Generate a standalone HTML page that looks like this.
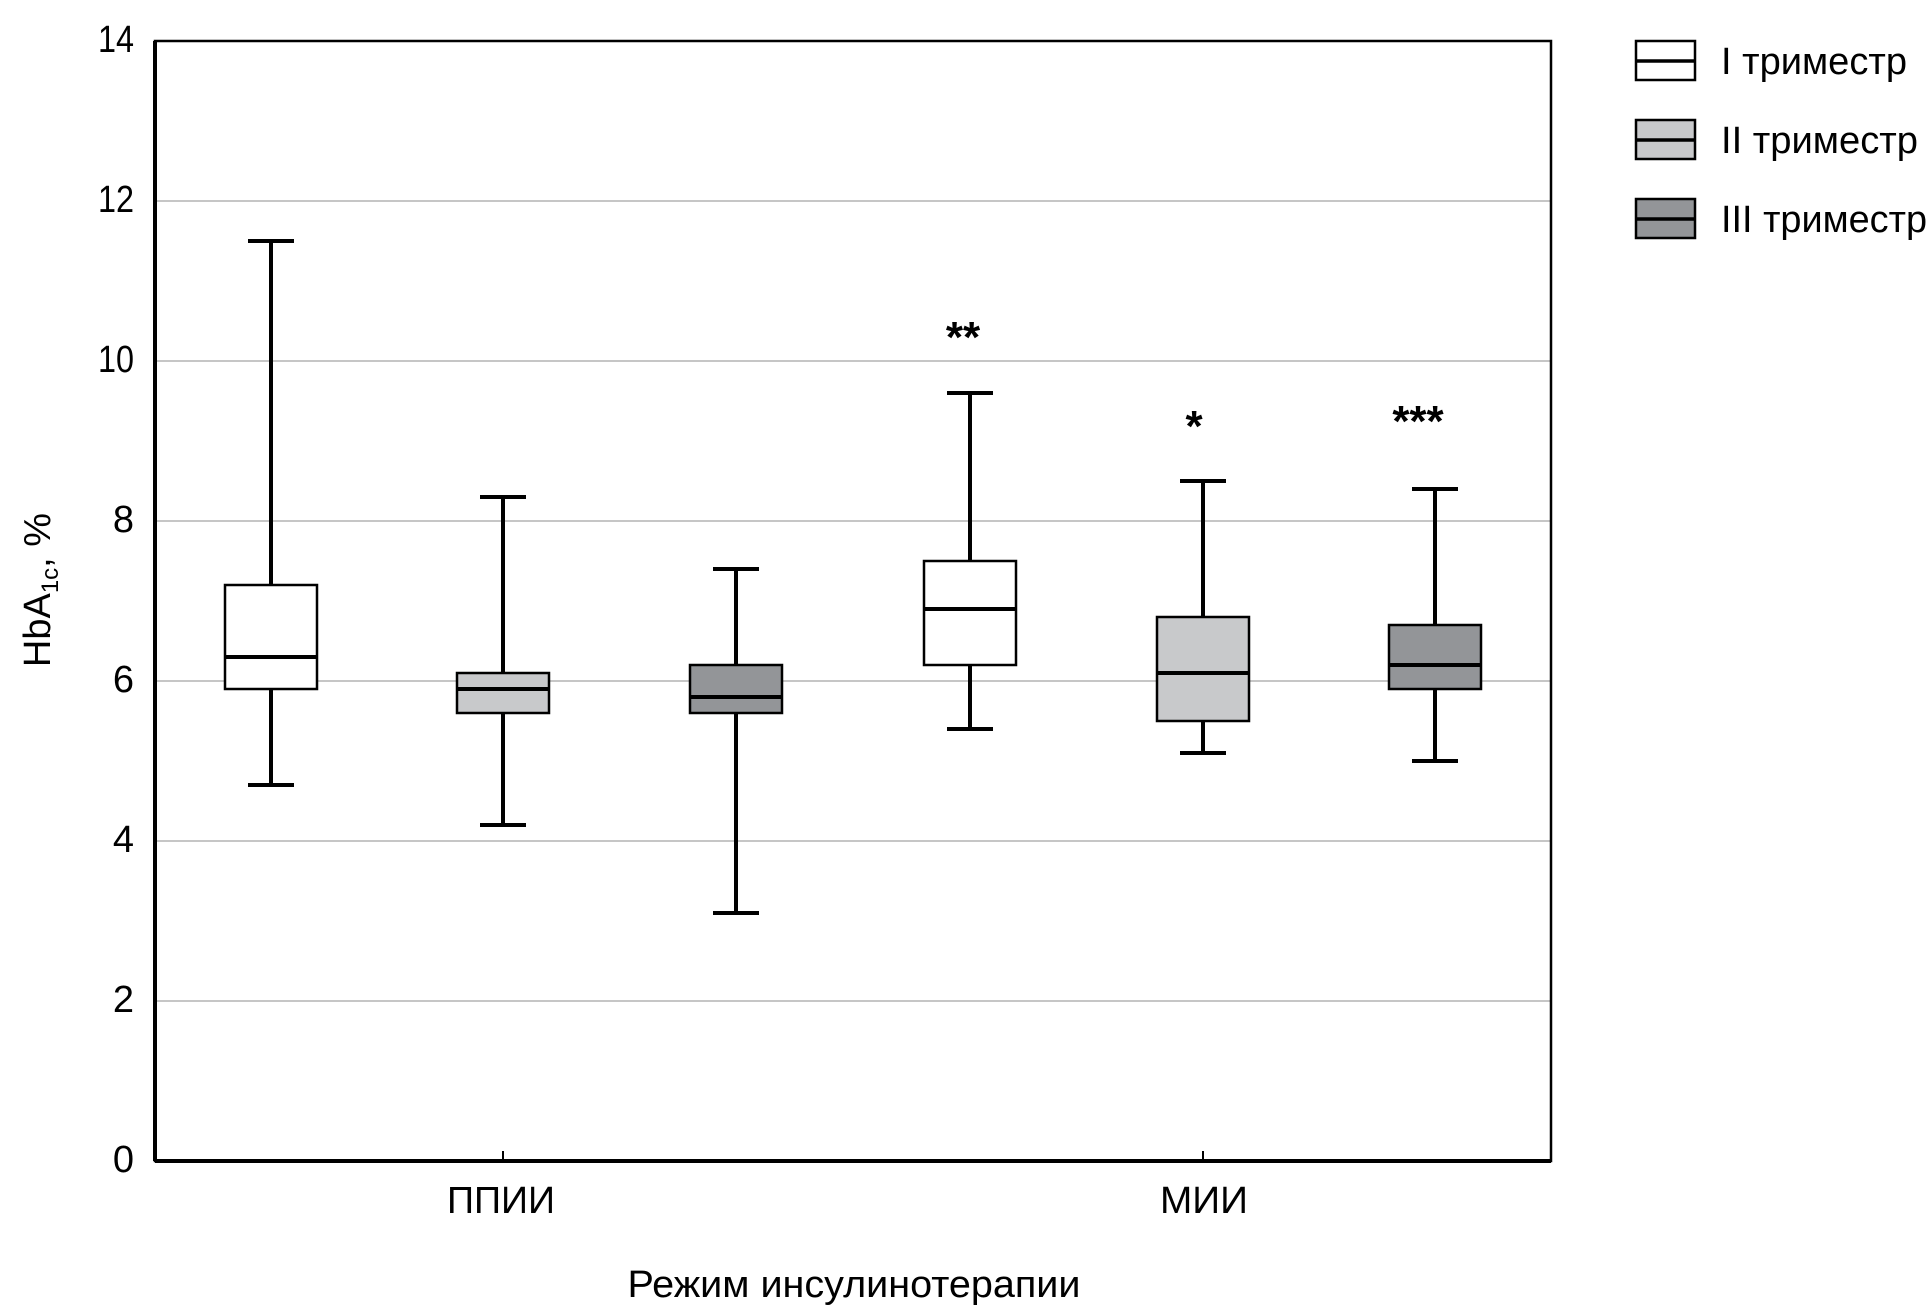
<!DOCTYPE html>
<html><head><meta charset="utf-8"><style>
html,body{margin:0;padding:0;background:#fff;}
svg{display:block;}
text{font-family:"Liberation Sans",sans-serif;fill:#000;}
</style></head><body>
<svg width="1930" height="1316" viewBox="0 0 1930 1316" xmlns="http://www.w3.org/2000/svg">
<g stroke="#b3b3b3" stroke-width="1.5">
<line x1="155" y1="201" x2="1551" y2="201"/>
<line x1="155" y1="361" x2="1551" y2="361"/>
<line x1="155" y1="521" x2="1551" y2="521"/>
<line x1="155" y1="681" x2="1551" y2="681"/>
<line x1="155" y1="841" x2="1551" y2="841"/>
<line x1="155" y1="1001" x2="1551" y2="1001"/>
</g>
<rect x="155" y="41" width="1396" height="1120" fill="none" stroke="#000" stroke-width="2.5"/>
<line x1="155" y1="41" x2="155" y2="1161" stroke="#000" stroke-width="4"/>
<line x1="155" y1="1161" x2="1551" y2="1161" stroke="#000" stroke-width="4"/>
<line x1="503" y1="1151" x2="503" y2="1161" stroke="#000" stroke-width="2"/>
<line x1="1203" y1="1151" x2="1203" y2="1161" stroke="#000" stroke-width="2"/>
<g font-size="38" text-anchor="end">
<text x="134" y="52" textLength="36" lengthAdjust="spacingAndGlyphs">14</text>
<text x="134" y="212" textLength="36" lengthAdjust="spacingAndGlyphs">12</text>
<text x="134" y="372" textLength="36" lengthAdjust="spacingAndGlyphs">10</text>
<text x="134" y="532">8</text>
<text x="134" y="692">6</text>
<text x="134" y="852">4</text>
<text x="134" y="1012">2</text>
<text x="134" y="1172">0</text>
</g>
<g id="boxes" stroke="#000">
<!-- box helper: whisker, cap, box, median -->
<g>
<line x1="271" y1="785" x2="271" y2="241" stroke-width="4"/><line x1="248" y1="241" x2="294" y2="241" stroke-width="4"/>
<line x1="271" y1="689" x2="271" y2="785" stroke-width="4"/><line x1="248" y1="785" x2="294" y2="785" stroke-width="4"/>
<rect x="225" y="585" width="92" height="104" fill="#fff" stroke-width="2.5"/>
<line x1="225" y1="657" x2="317" y2="657" stroke-width="4"/>
</g>
<g>
<line x1="503" y1="497" x2="503" y2="825" stroke-width="4"/><line x1="480" y1="497" x2="526" y2="497" stroke-width="4"/><line x1="480" y1="825" x2="526" y2="825" stroke-width="4"/>
<rect x="457" y="673" width="92" height="40" fill="#c8c9cb" stroke-width="2.5"/>
<line x1="457" y1="689" x2="549" y2="689" stroke-width="4"/>
</g>
<g>
<line x1="736" y1="569" x2="736" y2="913" stroke-width="4"/><line x1="713" y1="569" x2="759" y2="569" stroke-width="4"/><line x1="713" y1="913" x2="759" y2="913" stroke-width="4"/>
<rect x="690" y="665" width="92" height="48" fill="#939598" stroke-width="2.5"/>
<line x1="690" y1="697" x2="782" y2="697" stroke-width="4"/>
</g>
<g>
<line x1="970" y1="393" x2="970" y2="729" stroke-width="4"/><line x1="947" y1="393" x2="993" y2="393" stroke-width="4"/><line x1="947" y1="729" x2="993" y2="729" stroke-width="4"/>
<rect x="924" y="561" width="92" height="104" fill="#fff" stroke-width="2.5"/>
<line x1="924" y1="609" x2="1016" y2="609" stroke-width="4"/>
</g>
<g>
<line x1="1203" y1="481" x2="1203" y2="753" stroke-width="4"/><line x1="1180" y1="481" x2="1226" y2="481" stroke-width="4"/><line x1="1180" y1="753" x2="1226" y2="753" stroke-width="4"/>
<rect x="1157" y="617" width="92" height="104" fill="#c8c9cb" stroke-width="2.5"/>
<line x1="1157" y1="673" x2="1249" y2="673" stroke-width="4"/>
</g>
<g>
<line x1="1435" y1="489" x2="1435" y2="761" stroke-width="4"/><line x1="1412" y1="489" x2="1458" y2="489" stroke-width="4"/><line x1="1412" y1="761" x2="1458" y2="761" stroke-width="4"/>
<rect x="1389" y="625" width="92" height="64" fill="#939598" stroke-width="2.5"/>
<line x1="1389" y1="665" x2="1481" y2="665" stroke-width="4"/>
</g>
</g>
<g font-size="44" text-anchor="middle" font-weight="bold">
<text x="963" y="352">**</text>
<text x="1194" y="441">*</text>
<text x="1418" y="436">***</text>
</g>
<g font-size="38" text-anchor="middle">
<text x="501" y="1213" textLength="108" lengthAdjust="spacingAndGlyphs">ППИИ</text>
<text x="1204" y="1213" textLength="88" lengthAdjust="spacingAndGlyphs">МИИ</text>
<text x="854" y="1297" textLength="453" lengthAdjust="spacingAndGlyphs">Режим инсулинотерапии</text>
</g>
<text transform="translate(50,590) rotate(-90)" font-size="38" text-anchor="middle">HbA<tspan font-size="24" dy="8">1c</tspan><tspan dy="-8">, %</tspan></text>
<g stroke="#000">
<rect x="1636" y="41" width="59" height="39" fill="#fff" stroke-width="2.5"/>
<line x1="1636" y1="61" x2="1695" y2="61" stroke-width="3.5"/>
<rect x="1636" y="120" width="59" height="39" fill="#c8c9cb" stroke-width="2.5"/>
<line x1="1636" y1="140" x2="1695" y2="140" stroke-width="3.5"/>
<rect x="1636" y="199" width="59" height="39" fill="#939598" stroke-width="2.5"/>
<line x1="1636" y1="219" x2="1695" y2="219" stroke-width="3.5"/>
</g>
<g font-size="38">
<text x="1721" y="74" textLength="186" lengthAdjust="spacingAndGlyphs">I триместр</text>
<text x="1721" y="153" textLength="197" lengthAdjust="spacingAndGlyphs">II триместр</text>
<text x="1721" y="232" textLength="206" lengthAdjust="spacingAndGlyphs">III триместр</text>
</g>
</svg>
</body></html>
